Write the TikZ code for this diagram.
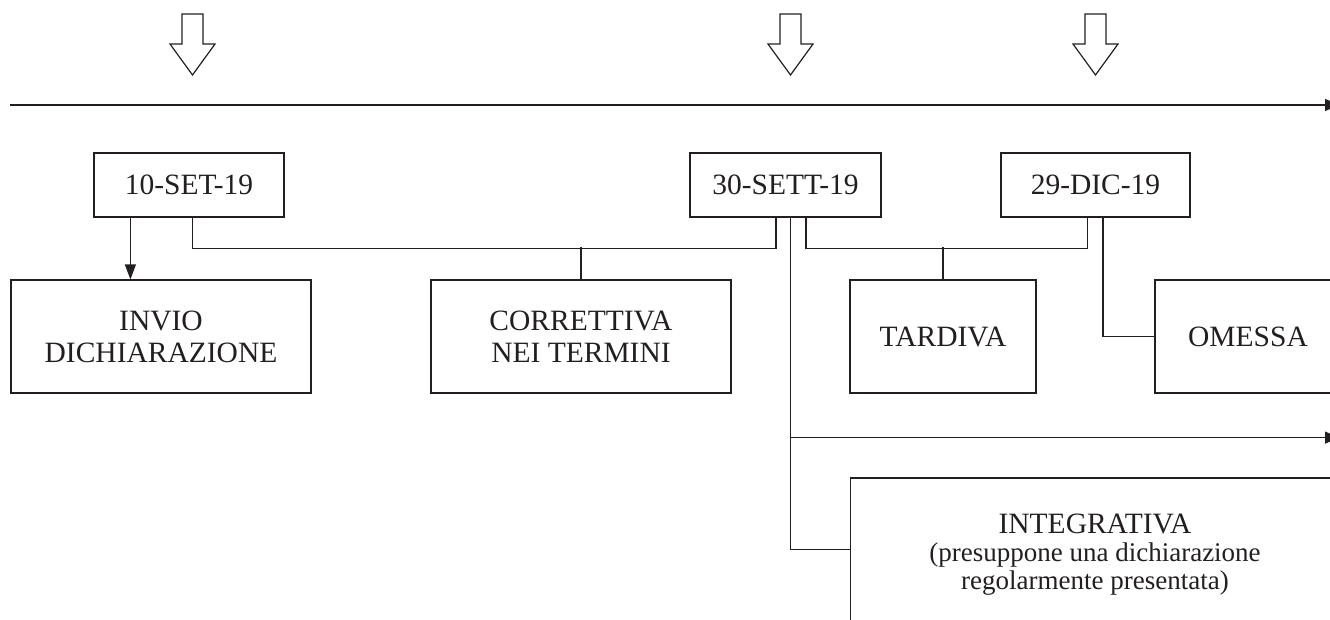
\documentclass[tikz,border=0pt]{standalone}
\usepackage{fontspec}
\setmainfont{Liberation Serif}
\usetikzlibrary{arrows.meta,calc}
\definecolor{ink}{RGB}{35,31,32}
\begin{document}
\begin{tikzpicture}[x=1pt,y=-1pt,
  line/.style={draw=ink,line width=1.2pt},
  box/.style={draw=ink,line width=1.2pt,inner sep=0pt,align=center,text=ink,
    font=\fontsize{29.5}{32}\selectfont},
  datebox/.style={box,minimum height=64pt},
  catbox/.style={box,minimum height=113pt},
  tip/.style={-{Triangle[length=15pt,width=11pt]}},
  hollow/.pic={\draw[draw=ink,line width=1.2pt,line join=miter]
     (-10.5,14) -- (10.5,14) -- (10.5,44) -- (22.5,44) -- (0,75)
     -- (-22.5,44) -- (-10.5,44) -- cycle;}]
\useasboundingbox (0,0) rectangle (1330,619);
\clip (0,0) rectangle (1330,619);

% markers above the timeline
\pic at (192.5,0) {hollow};
\pic at (790.5,0) {hollow};
\pic at (1095.5,0) {hollow};

% timeline
\coordinate (tl0) at (10,105);
\coordinate (tl1) at (1339,105);
\draw[line,-{Triangle[length=14pt,width=12pt]}] (tl0) -- (tl1);

% dates
\node[datebox,minimum width=190pt] (d1) at (189,185) {10-SET-19};
\node[datebox,minimum width=191pt] (d2) at (785.5,185) {30-SETT-19};
\node[datebox,minimum width=189pt] (d3) at (1095.5,185) {29-DIC-19};

% categories
\node[catbox,minimum width=300pt] (inv) at (161,336.5) {INVIO\\DICHIARAZIONE};
\node[catbox,minimum width=300pt] (cor) at (581,336.5) {CORRETTIVA\\NEI TERMINI};
\node[catbox,minimum width=186pt] (tar) at (943,336.5) {TARDIVA};
\node[catbox,minimum width=186pt] (oms) at (1248,336.5) {OMESSA};
\node[box,minimum width=489pt,minimum height=154pt,
  font=\fontsize{27}{28}\selectfont] (int) at (1095,555)
  {{\fontsize{29.5}{28}\selectfont INTEGRATIVA}\\(presuppone una dichiarazione\\regolarmente presentata)};

% connectors
\draw[line,tip] ($(d1.south west)+(37,0)$) -- ($(inv.north west)+(120,0)$);
\draw[line] ($(d1.south)+(3.7,0)$) -- ++(0,31) -| ($(d2.south)+(-9.5,0)$);
\draw[line] (cor.north) -- ++(0,-32);
\draw[line] ($(d2.south)+(20.5,0)$) -- ++(0,31) -| ($(d3.south)+(-7.8,0)$);
\draw[line] (tar.north) -- ++(0,-32);
\draw[line] ($(d3.south)+(7.5,0)$) |- (oms.west);
\draw[line] ($(d2.south)+(5,0)$) |- ($(int.north west)+(0,72)$);
\coordinate (br) at ($(d2.south)+(5,220)$);
\draw[line,-{Triangle[length=14pt,width=12pt]}] (br) -- (br -| tl1);
\end{tikzpicture}
\end{document}
